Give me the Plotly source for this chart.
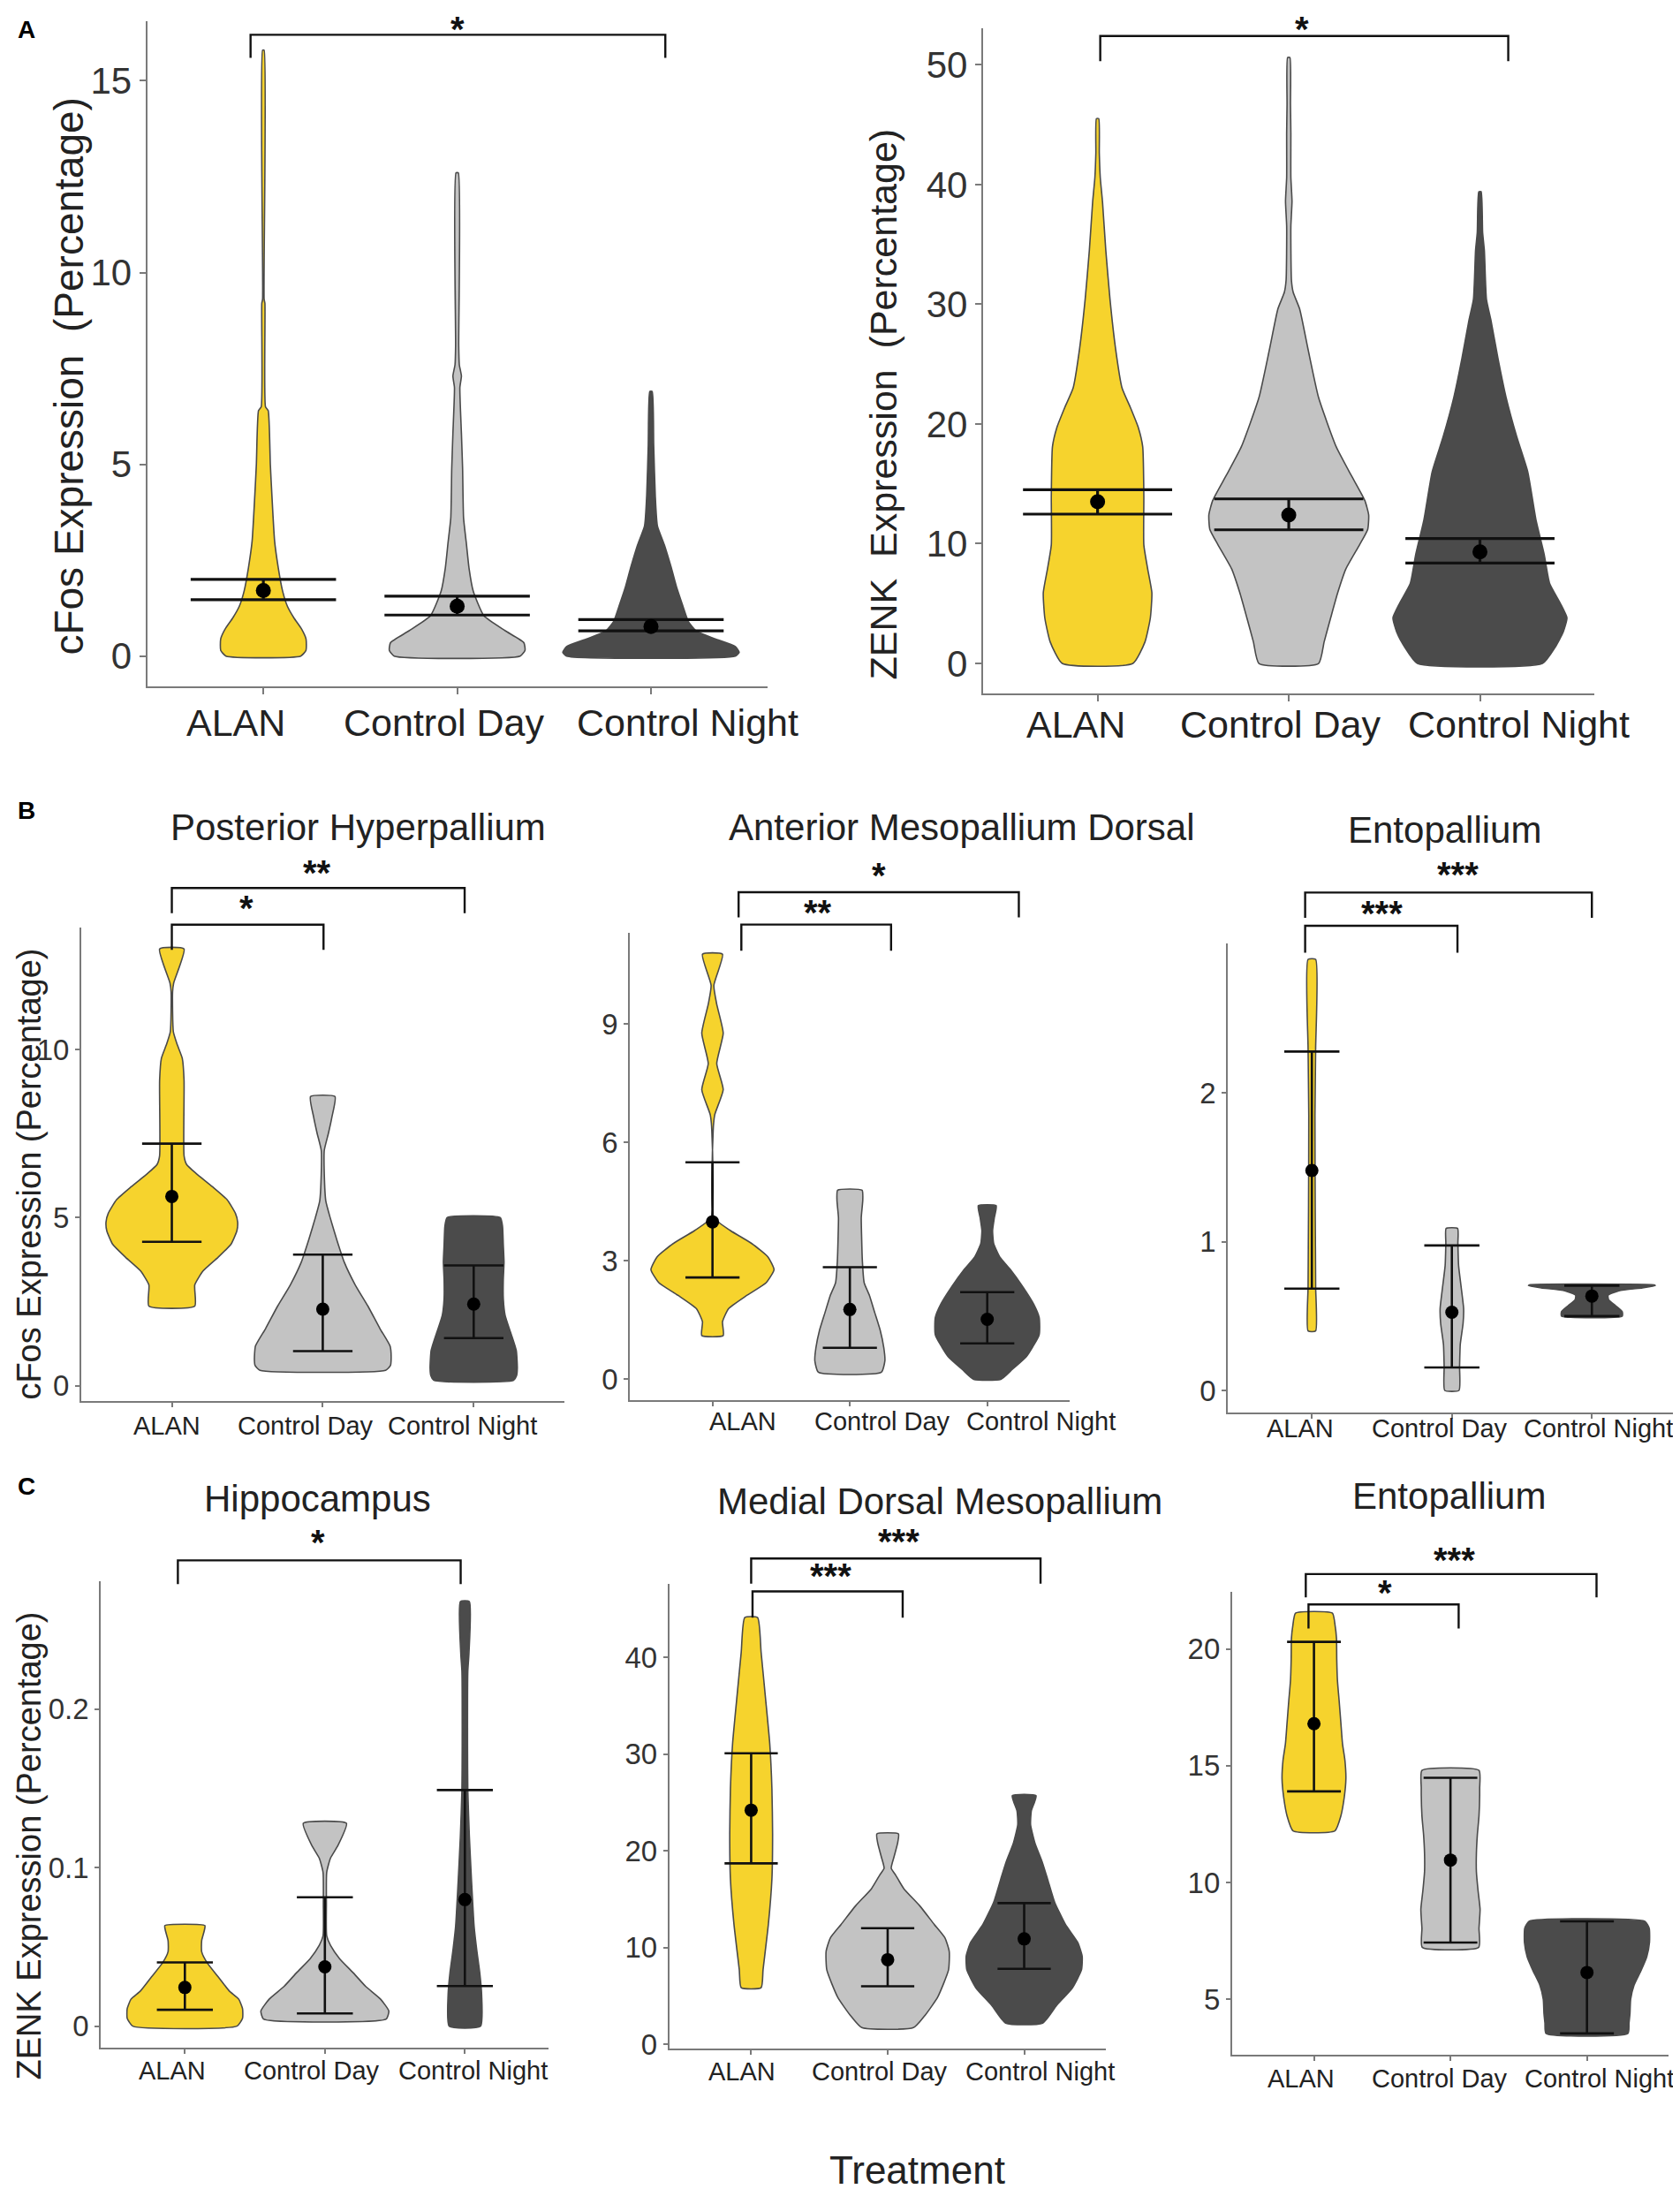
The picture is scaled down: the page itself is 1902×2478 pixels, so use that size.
import plotly.graph_objects as go

W, H = 1902, 2478
S = 1.585  # reference-frame to pixel scale

CATS = ["ALAN", "Control Day", "Control Night"]
FILLS = ["#F6D32D", "#C3C3C3", "#4B4B4B"]
OUTLINE = "#4a4a4a"
FONT = "Liberation Sans, Arial, sans-serif"

# ---------------- A1: cFos expression (all regions) ----------------
A1_TICKS = [0, 5, 10, 15]
A1_ALAN_Y = [0, 0.15, 0.45, 0.7, 1.0, 1.3, 1.7, 2.3, 3.0, 4.2, 5.0, 6.4, 6.5, 9.2, 9.3, 15.8]
A1_ALAN_W = [0.193, 0.220, 0.220, 0.198, 0.157, 0.124, 0.099, 0.077, 0.058, 0.044, 0.036, 0.025, 0.011, 0.008, 0.004, 0.004]
A1_DAY_Y = [0, 0.15, 0.35, 0.66, 1.05, 1.69, 2.3, 2.96, 3.6, 4.9, 5.8, 7.0, 7.3, 7.6, 8.1, 12.6]
A1_DAY_W = [0.325, 0.350, 0.344, 0.248, 0.138, 0.083, 0.061, 0.047, 0.033, 0.028, 0.022, 0.014, 0.022, 0.011, 0.008, 0.006]
A1_NIGHT_Y = [0, 0.1, 0.25, 0.45, 0.65, 0.9, 1.3, 1.8, 2.3, 2.9, 3.4, 4.2, 5.5, 6.9]
A1_NIGHT_W = [0.435, 0.455, 0.435, 0.331, 0.234, 0.193, 0.165, 0.132, 0.105, 0.069, 0.033, 0.022, 0.014, 0.006]
A1_MEAN = [1.71, 1.30, 0.77]
A1_LOW = [1.47, 1.07, 0.66]
A1_HIGH = [2.0, 1.56, 0.95]
A1_SIG = ["*"]

# ---------------- A2: ZENK expression (all regions) ----------------
A2_TICKS = [0, 10, 20, 30, 40, 50]
A2_ALAN_Y = [0, 1.8, 3.8, 5.9, 7.9, 9.9, 14, 18.1, 19.7, 21.4, 23, 26.3, 30.4, 34.5, 38.5, 40.6, 42.6, 45.5]
A2_ALAN_W = [0.185, 0.248, 0.276, 0.284, 0.262, 0.242, 0.242, 0.236, 0.213, 0.171, 0.128, 0.094, 0.065, 0.043, 0.026, 0.014, 0.009, 0.006]
A2_DAY_Y = [0, 1.8, 3.8, 5.9, 7.9, 9.9, 11.2, 12.4, 13.6, 15.7, 18.1, 22.2, 26.3, 29.6, 31.0, 32.0, 36.5, 38.6, 40.6, 44.3, 46.7, 50.6]
A2_DAY_W = [0.156, 0.185, 0.219, 0.256, 0.299, 0.370, 0.413, 0.418, 0.398, 0.327, 0.248, 0.156, 0.100, 0.057, 0.023, 0.014, 0.011, 0.017, 0.011, 0.011, 0.009, 0.006]
A2_NIGHT_Y = [0, 1.35, 2.6, 3.8, 5.0, 6.7, 9.1, 12, 16, 18.9, 22.2, 25.5, 28.7, 30.4, 34.5, 36, 39.4]
A2_NIGHT_W = [0.327, 0.393, 0.435, 0.455, 0.421, 0.364, 0.336, 0.293, 0.250, 0.193, 0.137, 0.094, 0.057, 0.034, 0.023, 0.014, 0.006]
A2_MEAN = [13.5, 12.39, 9.32]
A2_LOW = [12.47, 11.16, 8.38]
A2_HIGH = [14.5, 13.74, 10.43]
A2_SIG = ["*"]

# ---------------- B1: Posterior Hyperpallium (cFos) ----------------
B1_TICKS = [0, 5, 10]
B1_ALAN_Y = [2.37, 3.0, 3.42, 3.82, 4.21, 4.61, 4.87, 5.13, 5.53, 5.92, 6.32, 6.58, 6.84, 9.08, 9.74, 10.13, 10.53, 11.71, 11.97, 12.99]
B1_ALAN_W = [0.152, 0.152, 0.208, 0.306, 0.392, 0.431, 0.436, 0.421, 0.367, 0.269, 0.159, 0.098, 0.081, 0.081, 0.069, 0.037, 0.010, 0.005, 0.012, 0.081]
B1_DAY_Y = [0.46, 0.6, 0.79, 1.18, 1.7, 2.37, 3.0, 3.68, 4.34, 5.0, 5.5, 6.3, 7.0, 7.5, 8.0, 8.6]
B1_DAY_W = [0.416, 0.448, 0.453, 0.446, 0.379, 0.299, 0.215, 0.142, 0.093, 0.049, 0.020, 0.010, 0.010, 0.037, 0.061, 0.081]
B1_NIGHT_Y = [0.16, 0.3, 0.53, 1.05, 1.58, 2.1, 2.6, 3.16, 3.68, 4.2, 4.74, 5.0]
B1_NIGHT_W = [0.264, 0.284, 0.289, 0.282, 0.245, 0.208, 0.196, 0.196, 0.201, 0.196, 0.191, 0.176]
B1_MEAN = [5.63, 2.28, 2.43]
B1_LOW = [4.28, 1.03, 1.42]
B1_HIGH = [7.2, 3.9, 3.58]
B1_SIG = ["**", "*"]

# ---------------- B2: Anterior Mesopallium Dorsal (cFos) ----------------
B2_TICKS = [0, 3, 6, 9]
B2_ALAN_Y = [1.11, 1.46, 1.79, 2.12, 2.45, 2.78, 3.1, 3.44, 3.77, 4.1, 6.3, 6.7, 7.34, 8.0, 8.77, 9.5, 9.98, 10.77]
B2_ALAN_W = [0.078, 0.073, 0.117, 0.247, 0.391, 0.448, 0.404, 0.286, 0.130, 0.010, 0.005, 0.016, 0.078, 0.031, 0.078, 0.031, 0.010, 0.073]
B2_DAY_Y = [0.18, 0.47, 0.8, 1.24, 1.68, 2.12, 2.45, 3.0, 3.55, 4.1, 4.54, 4.79]
B2_DAY_W = [0.229, 0.255, 0.247, 0.221, 0.182, 0.143, 0.104, 0.091, 0.086, 0.083, 0.094, 0.089]
B2_NIGHT_Y = [0, 0.25, 0.58, 1.13, 1.57, 1.9, 2.34, 2.78, 3.1, 3.44, 3.77, 4.1, 4.4]
B2_NIGHT_W = [0.099, 0.182, 0.286, 0.378, 0.378, 0.339, 0.260, 0.169, 0.091, 0.047, 0.039, 0.052, 0.065]
B2_MEAN = [3.99, 1.77, 1.52]
B2_LOW = [2.58, 0.8, 0.91]
B2_HIGH = [5.5, 2.84, 2.21]
B2_SIG = ["*", "**"]

# ---------------- B3: Entopallium (cFos) ----------------
B3_TICKS = [0, 1, 2]
B3_ALAN_Y = [0.4, 0.7, 1.2, 1.85, 2.3, 2.9]
B3_ALAN_W = [0.027, 0.027, 0.024, 0.022, 0.027, 0.027]
B3_DAY_Y = [0, 0.16, 0.31, 0.45, 0.55, 0.69, 0.84, 0.99, 1.09]
B3_DAY_W = [0.051, 0.055, 0.060, 0.080, 0.084, 0.067, 0.048, 0.043, 0.041]
B3_NIGHT_Y = [0.50, 0.53, 0.57, 0.61, 0.64, 0.67, 0.69, 0.705, 0.71]
B3_NIGHT_W = [0.217, 0.217, 0.169, 0.120, 0.116, 0.193, 0.361, 0.453, 0.446]
B3_MEAN = [1.48, 0.526, 0.635]
B3_LOW = [0.685, 0.154, 0.5]
B3_HIGH = [2.28, 0.975, 0.705]
B3_SIG = ["***", "***"]

# ---------------- C1: Hippocampus (ZENK) ----------------
C1_TICKS = [0, 0.1, 0.2]
C1_ALAN_Y = [0, 0.005, 0.011, 0.017, 0.022, 0.031, 0.040, 0.047, 0.054, 0.06, 0.0635]
C1_ALAN_W = [0.372, 0.412, 0.412, 0.385, 0.319, 0.239, 0.159, 0.120, 0.120, 0.138, 0.143]
C1_DAY_Y = [0.0045, 0.0095, 0.017, 0.025, 0.034, 0.0425, 0.051, 0.057, 0.077, 0.097, 0.106, 0.114, 0.128]
C1_DAY_W = [0.438, 0.457, 0.398, 0.292, 0.199, 0.106, 0.040, 0.013, 0.011, 0.013, 0.040, 0.093, 0.154]
C1_NIGHT_Y = [0, 0.0195, 0.034, 0.048, 0.063, 0.091, 0.12, 0.149, 0.178, 0.224, 0.235, 0.268]
C1_NIGHT_W = [0.112, 0.120, 0.106, 0.085, 0.066, 0.048, 0.032, 0.021, 0.019, 0.021, 0.029, 0.032]
C1_MEAN = [0.0244, 0.0374, 0.0799]
C1_LOW = [0.0103, 0.008, 0.0253]
C1_HIGH = [0.0402, 0.0813, 0.149]
C1_SIG = ["*"]

# ---------------- C2: Medial Dorsal Mesopallium (ZENK) ----------------
C2_TICKS = [0, 10, 20, 30, 40]
C2_ALAN_Y = [5.85, 7.7, 12.4, 17.1, 21.75, 26.4, 31.1, 35.8, 40.5, 44.1]
C2_ALAN_W = [0.073, 0.087, 0.126, 0.152, 0.157, 0.152, 0.136, 0.105, 0.073, 0.047]
C2_DAY_Y = [1.73, 3.04, 4.9, 7.7, 9.6, 11.0, 12.4, 14.3, 16.1, 17.5, 18.2, 19.4, 20.8, 21.75]
C2_DAY_W = [0.189, 0.276, 0.367, 0.446, 0.451, 0.420, 0.341, 0.236, 0.118, 0.058, 0.026, 0.047, 0.073, 0.079]
C2_NIGHT_Y = [2.2, 4.0, 5.85, 7.7, 9.1, 10.5, 12.4, 14.7, 17.1, 18.9, 20.8, 22.7, 24.1, 25.7]
C2_NIGHT_W = [0.136, 0.236, 0.354, 0.420, 0.425, 0.394, 0.302, 0.223, 0.171, 0.131, 0.079, 0.047, 0.052, 0.087]
C2_MEAN = [24.2, 8.75, 10.9]
C2_LOW = [18.7, 6.0, 7.8]
C2_HIGH = [30.08, 12.0, 14.6]
C2_SIG = ["***", "***"]

# ---------------- C3: Entopallium (ZENK) ----------------
C3_TICKS = [5, 10, 15, 20]
C3_ALAN_Y = [12.21, 12.85, 13.65, 14.44, 15.22, 15.94, 16.84, 17.74, 18.65, 19.55, 20.45, 20.99, 21.53]
C3_ALAN_W = [0.153, 0.197, 0.222, 0.234, 0.227, 0.209, 0.197, 0.185, 0.172, 0.167, 0.165, 0.155, 0.135]
C3_DAY_Y = [7.23, 8.04, 8.85, 9.66, 10.46, 11.25, 12.05, 12.85, 14.04, 14.8]
C3_DAY_W = [0.207, 0.209, 0.217, 0.202, 0.190, 0.190, 0.197, 0.209, 0.214, 0.209]
C3_NIGHT_Y = [3.54, 3.99, 4.39, 5.0, 5.61, 6.21, 6.82, 7.43, 8.04, 8.34]
C3_NIGHT_W = [0.300, 0.308, 0.315, 0.320, 0.345, 0.394, 0.438, 0.458, 0.456, 0.424]
C3_MEAN = [16.8, 10.96, 6.15]
C3_LOW = [13.9, 7.43, 3.54]
C3_HIGH = [20.3, 14.48, 8.34]
C3_SIG = ["***", "*"]

# ---------------- layout configuration per panel ----------------
# dx/dy: plot area in reference frame (x left/right, y top/bottom)
# brackets: (x0, x1, y_top, y_drop, star_x, star_y)
PANELS = [
    dict(ticks=A1_TICKS, shapes=[(A1_ALAN_Y, A1_ALAN_W), (A1_DAY_Y, A1_DAY_W), (A1_NIGHT_Y, A1_NIGHT_W)],
         mean=A1_MEAN, low=A1_LOW, high=A1_HIGH, sig=A1_SIG,
         dx=(100, 543), dy=(10, 488), yr=(-0.8, 16.56), tickfont=42, labfont=43, labgap=41,
         cap=0.375, dot=17, lw=3.2, laboff=(-0.144, -0.066, 0.19),
         brackets=[(-0.066, 2.074, 16.2, 15.6, 1.0, 16.63)], title=None),
    dict(ticks=A2_TICKS, shapes=[(A2_ALAN_Y, A2_ALAN_W), (A2_DAY_Y, A2_DAY_W), (A2_NIGHT_Y, A2_NIGHT_W)],
         mean=A2_MEAN, low=A2_LOW, high=A2_HIGH, sig=A2_SIG,
         dx=(697, 1134), dy=(15, 493), yr=(-2.53, 53.07), tickfont=42, labfont=43, labgap=35,
         cap=0.39, dot=17, lw=3.2, laboff=(-0.114, -0.043, 0.205),
         brackets=[(0.014, 2.148, 52.4, 50.3, 1.067, 53.8)], title=None),
    dict(ticks=B1_TICKS, shapes=[(B1_ALAN_Y, B1_ALAN_W), (B1_DAY_Y, B1_DAY_W), (B1_NIGHT_Y, B1_NIGHT_W)],
         mean=B1_MEAN, low=B1_LOW, high=B1_HIGH, sig=B1_SIG,
         dx=(53, 398), dy=(661, 1001), yr=(-0.46, 13.62), tickfont=33, labfont=29, labgap=28,
         cap=0.197, dot=15, lw=2.6, laboff=(-0.032, -0.113, -0.073),
         brackets=[(0.0, 1.94, 14.8, 14.05, 0.96, 15.33), (0.0, 1.005, 13.71, 12.96, 0.495, 14.28)],
         title=("Posterior Hyperpallium", 251, 589)),
    dict(ticks=B2_TICKS, shapes=[(B2_ALAN_Y, B2_ALAN_W), (B2_DAY_Y, B2_DAY_W), (B2_NIGHT_Y, B2_NIGHT_W)],
         mean=B2_MEAN, low=B2_LOW, high=B2_HIGH, sig=B2_SIG,
         dx=(445, 759), dy=(665, 1000), yr=(-0.52, 11.3), tickfont=33, labfont=29, labgap=24,
         cap=0.197, dot=15, lw=2.6, laboff=(0.224, 0.234, 0.393),
         brackets=[(0.19, 2.23, 12.34, 11.7, 1.21, 12.84), (0.21, 1.30, 11.52, 10.86, 0.77, 11.9)],
         title=("Anterior Mesopallium Dorsal", 682, 589)),
    dict(ticks=B3_TICKS, shapes=[(B3_ALAN_Y, B3_ALAN_W), (B3_DAY_Y, B3_DAY_W), (B3_NIGHT_Y, B3_NIGHT_W)],
         mean=B3_MEAN, low=B3_LOW, high=B3_HIGH, sig=B3_SIG,
         dx=(872, 1192), dy=(672, 1009), yr=(-0.148, 3.01), tickfont=33, labfont=29, labgap=18,
         cap=0.197, dot=15, lw=2.6, laboff=(-0.084, -0.084, 0.048),
         brackets=[(-0.048, 2.0, 3.35, 3.18, 1.04, 3.49), (-0.048, 1.04, 3.126, 2.945, 0.5, 3.23)],
         title=("Entopallium", 1027, 591)),
    dict(ticks=C1_TICKS, shapes=[(C1_ALAN_Y, C1_ALAN_W), (C1_DAY_Y, C1_DAY_W), (C1_NIGHT_Y, C1_NIGHT_W)],
         mean=C1_MEAN, low=C1_LOW, high=C1_HIGH, sig=C1_SIG,
         dx=(67, 387), dy=(1130, 1465), yr=(-0.0135, 0.281), tickfont=33, labfont=29, labgap=26,
         cap=0.2, dot=15, lw=2.6, laboff=(-0.09, -0.096, 0.056),
         brackets=[(-0.05, 1.97, 0.294, 0.279, 0.95, 0.307)],
         title=("Hippocampus", 222, 1071)),
    dict(ticks=C2_TICKS, shapes=[(C2_ALAN_Y, C2_ALAN_W), (C2_DAY_Y, C2_DAY_W), (C2_NIGHT_Y, C2_NIGHT_W)],
         mean=C2_MEAN, low=C2_LOW, high=C2_HIGH, sig=C2_SIG,
         dx=(473, 785), dy=(1132, 1466), yr=(-0.47, 47.6), tickfont=33, labfont=29, labgap=26,
         cap=0.195, dot=15, lw=2.6, laboff=(-0.068, -0.06, 0.115),
         brackets=[(0.0, 2.12, 50.2, 47.6, 1.08, 52.2), (0.01, 1.11, 46.8, 44.1, 0.58, 48.7)],
         title=("Medial Dorsal Mesopallium", 666, 1073)),
    dict(ticks=C3_TICKS, shapes=[(C3_ALAN_Y, C3_ALAN_W), (C3_DAY_Y, C3_DAY_W), (C3_NIGHT_Y, C3_NIGHT_W)],
         mean=C3_MEAN, low=C3_LOW, high=C3_HIGH, sig=C3_SIG,
         dx=(875, 1187), dy=(1138, 1470), yr=(2.64, 22.43), tickfont=33, labfont=29, labgap=27,
         cap=0.197, dot=15, lw=2.6, laboff=(-0.094, -0.081, 0.087),
         brackets=[(-0.06, 2.07, 23.2, 22.2, 1.03, 23.9), (-0.04, 1.06, 21.9, 20.87, 0.52, 22.5)],
         title=("Entopallium", 1030, 1069)),
]

STAR_SIZE = 40


def px_x(mx):
    return min(1.0, mx * S / W)


def px_y(my):
    return 1 - my * S / H


fig = go.Figure()
shapes = []
annos = []

for i, p in enumerate(PANELS):
    n = "" if i == 0 else str(i + 1)
    xa, ya = "x" + n, "y" + n
    d0, d1 = px_y(p["dy"][1]), px_y(p["dy"][0])
    r0, r1 = p["yr"]

    def ypaper(v, d0=d0, d1=d1, r0=r0, r1=r1):
        return d0 + (v - r0) / (r1 - r0) * (d1 - d0)

    # violins
    for c, (ys, ws) in enumerate(p["shapes"]):
        xs = [c + w for w in ws] + [c - w for w in reversed(ws)] + [c + ws[0]]
        yy = list(ys) + list(reversed(ys)) + [ys[0]]
        fig.add_trace(go.Scatter(x=xs, y=yy, mode="lines", fill="toself", fillcolor=FILLS[c],
                                 line=dict(color=OUTLINE, width=1.6, shape="spline", smoothing=0.5),
                                 xaxis=xa, yaxis=ya, hoverinfo="skip", showlegend=False))
    # error bars
    ex, ey = [], []
    cw = p["cap"]
    for c in range(3):
        lo, hi = p["low"][c], p["high"][c]
        ex += [c - cw, c + cw, None, c - cw, c + cw, None, c, c, None]
        ey += [hi, hi, None, lo, lo, None, lo, hi, None]
    fig.add_trace(go.Scatter(x=ex, y=ey, mode="lines", line=dict(color="#111111", width=p["lw"]),
                             xaxis=xa, yaxis=ya, hoverinfo="skip", showlegend=False))
    fig.add_trace(go.Scatter(x=[0, 1, 2], y=p["mean"], mode="markers",
                             marker=dict(color="#000000", size=p["dot"]),
                             xaxis=xa, yaxis=ya, hoverinfo="skip", showlegend=False))

    axcommon = dict(showgrid=False, zeroline=False, showline=True, linecolor="#7a7a7a", linewidth=2,
                    ticks="outside", tickcolor="#7a7a7a", tickwidth=2,
                    ticklen=7 if i < 2 else 5)
    fig.update_layout(**{
        ("xaxis" + n): dict(domain=[px_x(p["dx"][0]), px_x(p["dx"][1])], range=[-0.6, 2.6],
                            tickvals=[0, 1, 2], ticktext=["", "", ""], anchor=ya, **axcommon),
        ("yaxis" + n): dict(domain=[d0, d1], range=[r0, r1], tickvals=p["ticks"], anchor=xa,
                            tickfont=dict(family=FONT, size=p["tickfont"], color="#333333"), **axcommon),
    })

    # category labels
    ylab = d0 - p["labgap"] / H
    for c in range(3):
        annos.append(dict(x=c + p["laboff"][c], y=ylab, xref=xa, yref="paper", text=CATS[c],
                          showarrow=False, xanchor="center", yanchor="middle",
                          font=dict(family=FONT, size=p["labfont"], color="#222222")))

    # significance brackets
    for (x0, x1, yt, yd, sx, sy), txt in zip(p["brackets"], p["sig"]):
        path = "M {x0},{a} L {x0},{b} L {x1},{b} L {x1},{a}".format(
            x0=x0, x1=x1, a=ypaper(yd), b=ypaper(yt))
        shapes.append(dict(type="path", path=path, xref=xa, yref="paper",
                           line=dict(color="#111111", width=2.4)))
        ys_ = ypaper(sy)
        star = dict(x=sx, xref=xa, yref="paper", text="<b>" + txt + "</b>", showarrow=False,
                    xanchor="center", font=dict(family=FONT, size=STAR_SIZE, color="#111111"))
        if ys_ + 0.62 * STAR_SIZE / H > 1:
            star.update(y=1.0, yanchor="top", yshift=-1)
        else:
            star.update(y=ys_, yanchor="middle", yshift=-3)
        annos.append(star)

    if p["title"]:
        t, tx, ty = p["title"]
        annos.append(dict(x=px_x(tx), y=px_y(ty), xref="paper", yref="paper", text=t, showarrow=False,
                          xanchor="center", yanchor="middle",
                          font=dict(family=FONT, size=42, color="#222222")))

# axis titles and panel letters
NB = "\u00a0"
axis_titles = [
    ("cFos Expression" + NB * 2 + "(Percentage)", 44, 265, 46),
    ("ZENK" + NB * 2 + "Expression" + NB * 2 + "(Percentage)", 626, 285, 43),
    ("cFos Expression (Percentage)", 16, 838, 38),
    ("ZENK Expression (Percentage)", 16, 1320, 38),
]
for t, mx, my, fs in axis_titles:
    annos.append(dict(x=px_x(mx), y=px_y(my), xref="paper", yref="paper", text=t, textangle=-90,
                      showarrow=False, xanchor="center", yanchor="middle",
                      font=dict(family=FONT, size=fs, color="#222222")))

annos.append(dict(x=px_x(650), y=px_y(1553), xref="paper", yref="paper", text="Treatment",
                  showarrow=False, xanchor="center", yanchor="middle",
                  font=dict(family=FONT, size=44, color="#222222")))

for letter, mx, my in [("A", 14, 16), ("B", 14, 577), ("C", 14, 1062)]:
    annos.append(dict(x=px_x(mx), y=px_y(my), xref="paper", yref="paper", text="<b>" + letter + "</b>",
                      showarrow=False, xanchor="center", yanchor="middle",
                      font=dict(family=FONT, size=28, color="#000000")))

fig.update_layout(width=W, height=H, margin=dict(l=0, r=0, t=0, b=0),
                  plot_bgcolor="white", paper_bgcolor="white", showlegend=False,
                  shapes=shapes, annotations=annos)

fig.write_html("out.html")
